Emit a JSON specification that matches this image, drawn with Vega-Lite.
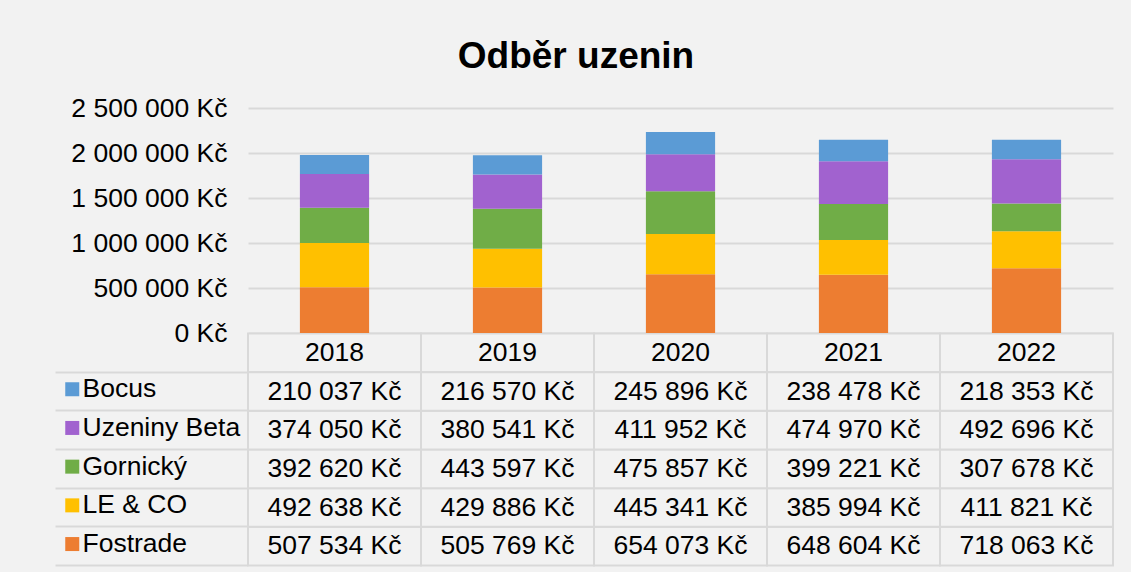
{
  "$schema": "https://vega.github.io/schema/vega-lite/v6.json",
  "background": "#f2f2f2",
  "padding": {"left": 54, "top": 38, "right": 17, "bottom": 6},
  "title": {"text": "Odběr uzenin", "fontSize": 37, "fontWeight": "bold", "font": "Liberation Sans", "color": "#000000", "anchor": "middle", "frame": "bounds", "offset": 19, "dx": -8},
  "datasets": {
    "sales": [
      {"year": "2018", "series": "Fostrade", "value": 507534},
      {"year": "2019", "series": "Fostrade", "value": 505769},
      {"year": "2020", "series": "Fostrade", "value": 654073},
      {"year": "2021", "series": "Fostrade", "value": 648604},
      {"year": "2022", "series": "Fostrade", "value": 718063},
      {"year": "2018", "series": "LE & CO", "value": 492638},
      {"year": "2019", "series": "LE & CO", "value": 429886},
      {"year": "2020", "series": "LE & CO", "value": 445341},
      {"year": "2021", "series": "LE & CO", "value": 385994},
      {"year": "2022", "series": "LE & CO", "value": 411821},
      {"year": "2018", "series": "Gornický", "value": 392620},
      {"year": "2019", "series": "Gornický", "value": 443597},
      {"year": "2020", "series": "Gornický", "value": 475857},
      {"year": "2021", "series": "Gornický", "value": 399221},
      {"year": "2022", "series": "Gornický", "value": 307678},
      {"year": "2018", "series": "Uzeniny Beta", "value": 374050},
      {"year": "2019", "series": "Uzeniny Beta", "value": 380541},
      {"year": "2020", "series": "Uzeniny Beta", "value": 411952},
      {"year": "2021", "series": "Uzeniny Beta", "value": 474970},
      {"year": "2022", "series": "Uzeniny Beta", "value": 492696},
      {"year": "2018", "series": "Bocus", "value": 210037},
      {"year": "2019", "series": "Bocus", "value": 216570},
      {"year": "2020", "series": "Bocus", "value": 245896},
      {"year": "2021", "series": "Bocus", "value": 238478},
      {"year": "2022", "series": "Bocus", "value": 218353}
    ]
  },
  "width": 865,
  "height": 457.5,
  "data": {"name": "sales"},
  "resolve": {"scale": {"y": "independent"}, "axis": {"y": "independent"}},
  "layer": [
    {
      "layer": [
        {
          "transform": [{"aggregate": [{"op": "count", "as": "n"}], "groupby": ["year"]}, {"fold": ["year"], "as": ["row", "label"]}],
          "mark": {"type": "rect", "fill": "#f2f2f2", "stroke": "#d9d9d9", "strokeWidth": 2},
          "encoding": {
            "x": {"field": "label", "type": "ordinal", "axis": null, "scale": {"paddingInner": 0, "paddingOuter": 0}},
            "y": {"field": "row", "type": "nominal",
              "scale": {"domain": ["s1", "s2", "s3", "s4", "s5", "year", "Bocus", "Uzeniny Beta", "Gornický", "LE & CO", "Fostrade"], "paddingInner": 0, "paddingOuter": 0.416, "align": 1},
              "axis": {"orient": "right", "offset": -1058, "title": null, "labels": false, "domain": false, "grid": false, "ticks": true, "tickSize": 193, "tickColor": "#d9d9d9", "tickWidth": 2, "bandPosition": 1, "tickExtra": true, "values": ["Bocus", "Uzeniny Beta", "Gornický", "LE & CO", "Fostrade"]}}
          }
        },
        {
          "mark": {"type": "rect", "fill": "#f2f2f2", "stroke": "#d9d9d9", "strokeWidth": 2},
          "encoding": {
            "x": {"field": "year", "type": "ordinal", "axis": null},
            "y": {"field": "series", "type": "nominal",
              "scale": {"domain": ["s1", "s2", "s3", "s4", "s5", "year", "Bocus", "Uzeniny Beta", "Gornický", "LE & CO", "Fostrade"], "paddingInner": 0, "paddingOuter": 0.416, "align": 1},
              "axis": {"orient": "right", "offset": -1058, "title": null, "labels": false, "domain": false, "grid": false, "ticks": true, "tickSize": 193, "tickColor": "#d9d9d9", "tickWidth": 2, "bandPosition": 1, "tickExtra": true, "values": ["Bocus", "Uzeniny Beta", "Gornický", "LE & CO", "Fostrade"]}}
          }
        },
        {
          "transform": [{"aggregate": [{"op": "count", "as": "n"}], "groupby": ["year"]}, {"fold": ["year"], "as": ["row", "label"]}],
          "mark": {"type": "text", "fontSize": 26.5, "font": "Liberation Sans", "color": "#000000", "baseline": "middle", "align": "center"},
          "encoding": {
            "x": {"field": "label", "type": "ordinal", "axis": null},
            "y": {"field": "row", "type": "nominal",
              "scale": {"domain": ["s1", "s2", "s3", "s4", "s5", "year", "Bocus", "Uzeniny Beta", "Gornický", "LE & CO", "Fostrade"], "paddingInner": 0, "paddingOuter": 0.416, "align": 1},
              "axis": {"orient": "right", "offset": -1058, "title": null, "labels": false, "domain": false, "grid": false, "ticks": true, "tickSize": 193, "tickColor": "#d9d9d9", "tickWidth": 2, "bandPosition": 1, "tickExtra": true, "values": ["Bocus", "Uzeniny Beta", "Gornický", "LE & CO", "Fostrade"]}},
            "text": {"field": "label"}
          }
        },
        {
          "mark": {"type": "text", "fontSize": 26.5, "font": "Liberation Sans", "color": "#000000", "baseline": "middle", "align": "center", "text": {"expr": "replace(format(datum.value, ','), ',', ' ') + ' Kč'"}},
          "encoding": {
            "x": {"field": "year", "type": "ordinal", "axis": null},
            "y": {"field": "series", "type": "nominal",
              "scale": {"domain": ["s1", "s2", "s3", "s4", "s5", "year", "Bocus", "Uzeniny Beta", "Gornický", "LE & CO", "Fostrade"], "paddingInner": 0, "paddingOuter": 0.416, "align": 1},
              "axis": {"orient": "right", "offset": -1058, "title": null, "labels": false, "domain": false, "grid": false, "ticks": true, "tickSize": 193, "tickColor": "#d9d9d9", "tickWidth": 2, "bandPosition": 1, "tickExtra": true, "values": ["Bocus", "Uzeniny Beta", "Gornický", "LE & CO", "Fostrade"]}}
          }
        }
      ]
    },
    {
      "mark": {"type": "bar", "width": {"band": 0.4}},
      "encoding": {
        "x": {"field": "year", "type": "ordinal", "axis": null},
        "y": {
          "field": "value", "type": "quantitative", "stack": "zero",
          "scale": {"domain": [-2583333, 2500000], "nice": false, "zero": false},
          "axis": {"orient": "left", "title": null, "values": [0, 500000, 1000000, 1500000, 2000000, 2500000], "labelExpr": "replace(replace(format(datum.value, ','), ',', ' '), ',', ' ') + ' Kč'", "labelFontSize": 26.5, "labelFont": "Liberation Sans", "labelColor": "#000000", "labelPadding": 21, "ticks": false, "domain": false, "grid": true, "gridColor": "#d9d9d9", "gridWidth": 2}
        },
        "order": {"field": "year", "type": "ordinal"},
        "color": {
          "field": "series", "type": "nominal",
          "scale": {"domain": ["Bocus", "Uzeniny Beta", "Gornický", "LE & CO", "Fostrade"], "range": ["#5b9bd5", "#a162cf", "#70ad47", "#ffc000", "#ed7d31"]},
          "legend": {"orient": "none", "legendX": -189, "legendY": 268, "title": null, "symbolType": "square", "symbolSize": 196, "symbolStrokeWidth": 0, "labelFontSize": 26.5, "labelFont": "Liberation Sans", "labelColor": "#000000", "labelOffset": -3, "rowPadding": 11.7, "padding": 0, "labelLimit": 300}
        }
      }
    }
  ],
  "config": {
    "view": {"stroke": null},
    "font": "Liberation Sans"
  }
}
